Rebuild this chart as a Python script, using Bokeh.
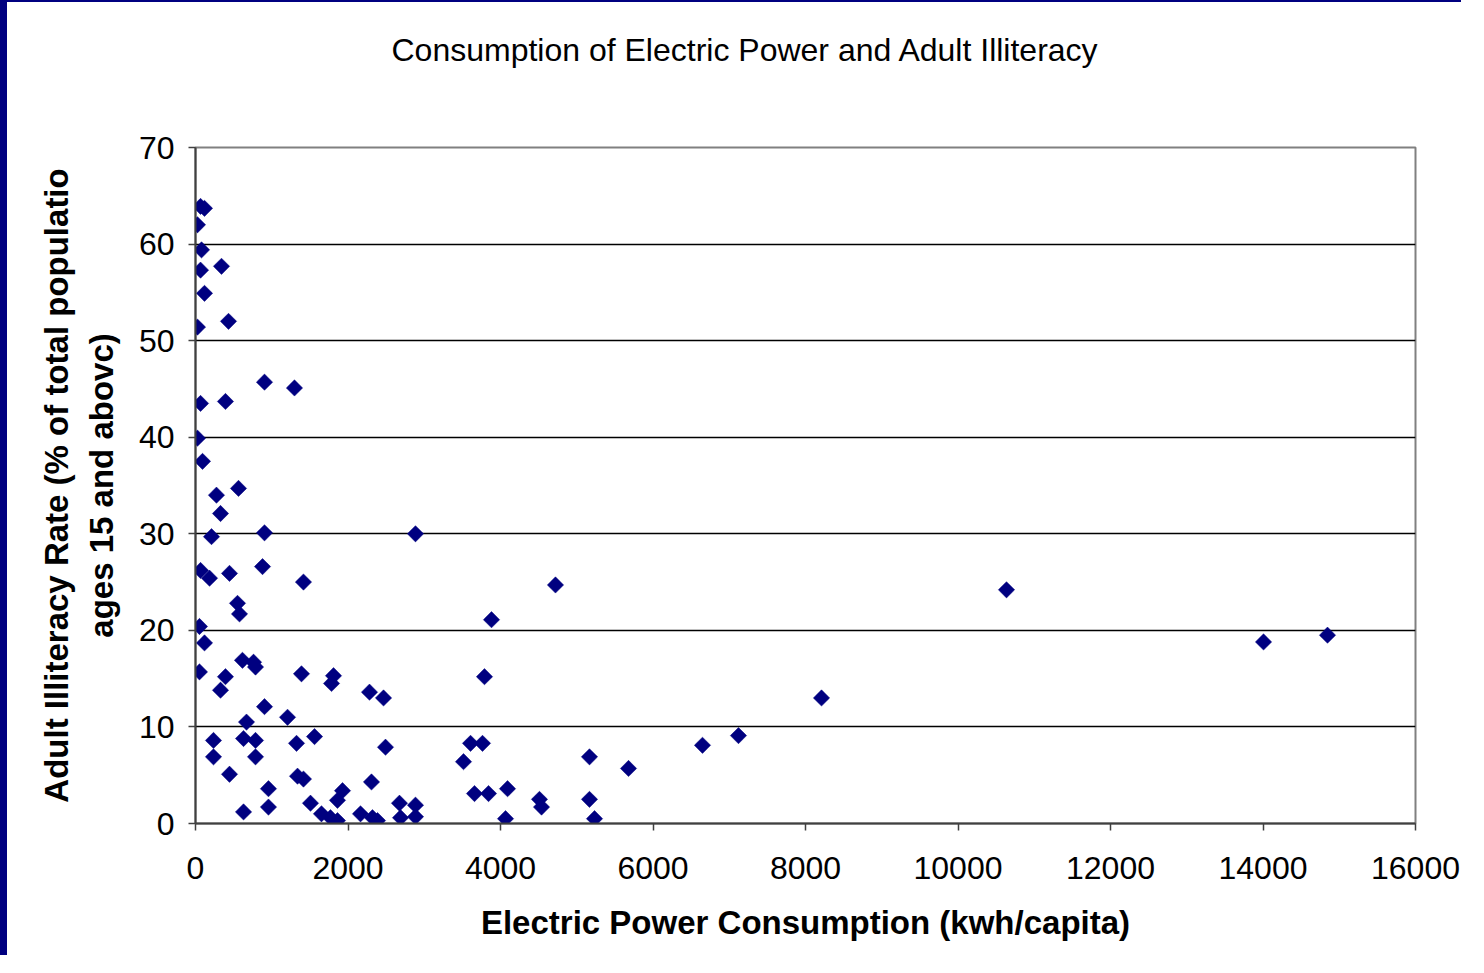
import math
from bokeh.plotting import figure
from bokeh.models import Range1d, FixedTicker, LinearAxis, Title, ColumnDataSource
from bokeh.embed import file_html
from bokeh.resources import INLINE

# ---- data ----
power_kwh = [66, 118, 26, 79, 66, 341, 118, 433, 26, 905, 1298, 66, 393, 26, 92,
             275, 564, 328, 210, 905, 2885, 66, 184, 446, 879, 1416, 4721, 551, 577,
             3882, 52, 118, 616, 761, 787, 52, 393, 1390, 1810, 1784, 3790, 328, 2282,
             2466, 905, 1207, 669, 236, 630, 787, 1325, 1561, 2492, 3607, 3764, 236,
             787, 3515, 446, 1338, 1416, 2308, 957, 1928, 1862, 630, 957, 1508, 1652,
             1770, 1862, 2164, 2321, 2387, 2675, 2689, 2885, 2885, 3659, 3843, 4092,
             4511, 4538, 4066, 5167, 5167, 5233, 5679, 6649, 7121, 8210, 10636, 14007,
             14846]
illiteracy = [63.9, 63.7, 62.0, 59.4, 57.3, 57.7, 54.9, 52.0, 51.4, 45.7, 45.1, 43.5,
              43.7, 39.9, 37.5, 34.0, 34.7, 32.1, 29.7, 30.1, 30.0, 26.2, 25.4, 25.9,
              26.6, 25.0, 24.7, 22.8, 21.7, 21.1, 20.4, 18.7, 16.9, 16.7, 16.2, 15.7,
              15.2, 15.5, 15.3, 14.5, 15.2, 13.8, 13.6, 13.0, 12.1, 11.0, 10.5, 8.6,
              8.8, 8.6, 8.3, 9.0, 7.9, 8.3, 8.3, 6.9, 6.9, 6.4, 5.1, 4.9, 4.6, 4.3,
              3.6, 3.4, 2.4, 1.2, 1.7, 2.1, 1.0, 0.6, 0.3, 1.0, 0.6, 0.3, 2.1, 0.6,
              1.9, 0.7, 3.1, 3.1, 3.6, 2.5, 1.7, 0.5, 6.9, 2.5, 0.5, 5.7, 8.1, 9.1,
              13.0, 24.2, 18.8, 19.5]
x_ticks = [0, 2000, 4000, 6000, 8000, 10000, 12000, 14000, 16000]
y_ticks = [0, 10, 20, 30, 40, 50, 60, 70]

title_text = "Consumption of Electric Power and Adult Illiteracy"
x_label = "Electric Power Consumption (kwh/capita)"
y_label_1 = "Adult Illiteracy Rate (% of total populatio"
y_label_2 = "ages 15 and abovc)"

FONT = "Liberation Sans"
NAVY = "#000080"

BL, BT = 7, 2          # navy page border (left, top)
W, H = 1461, 955
ML, MR, MT, MB = 195 - BL, 53, 147 - BT, 134

p = figure(width=W, height=H, output_backend="svg", toolbar_location=None, title=None,
           x_range=Range1d(x_ticks[0], x_ticks[-1]), y_range=Range1d(y_ticks[0], y_ticks[-1]),
           min_border_left=ML, min_border_right=MR, min_border_top=MT, min_border_bottom=MB)
p.styles = {"border-left": f"{BL}px solid {NAVY}", "border-top": f"{BT}px solid {NAVY}"}
p.background_fill_color = "white"
p.border_fill_color = "white"
p.outline_line_color = "#808080"
p.outline_line_width = 2

xax = p.below[0]
yax = p.left[0]

# grids
p.xgrid.grid_line_color = None
p.ygrid.ticker = FixedTicker(ticks=y_ticks)
p.ygrid.grid_line_color = "#000000"
p.ygrid.grid_line_width = 1.3

# axes
for ax in (xax, yax):
    ax.axis_line_color = "#404040"
    ax.axis_line_width = 2
    ax.major_tick_line_color = "#404040"
    ax.major_tick_line_width = 1.5
    ax.major_tick_out = 7
    ax.major_tick_in = 0
    ax.minor_tick_line_color = None
    ax.major_label_text_font = FONT
    ax.major_label_text_font_size = "32px"
    ax.major_label_text_color = "#000000"
    ax.axis_label_text_font = FONT
    ax.axis_label_text_font_size = "33px"
    ax.axis_label_text_font_style = "bold"
    ax.axis_label_text_color = "#000000"

xax.ticker = FixedTicker(ticks=x_ticks)
yax.ticker = FixedTicker(ticks=y_ticks)
xax.major_label_standoff = 26
yax.major_label_standoff = 14

xax.axis_label = x_label
xax.axis_label_standoff = 22
yax.axis_label = y_label_2
yax.axis_label_standoff = 16

# outer line of the y-axis title, carried by a bare extra axis
outer = LinearAxis(ticker=FixedTicker(ticks=[]), axis_label=y_label_1,
                   axis_line_color=None, major_tick_line_color=None,
                   minor_tick_line_color=None, major_label_text_font_size="0px",
                   major_tick_out=0, major_label_standoff=0,
                   axis_label_standoff=5, axis_label_text_font=FONT,
                   axis_label_text_font_size="33px", axis_label_text_font_style="bold",
                   axis_label_text_color="#000000")
p.add_layout(outer, "left")

# invisible spacer above the frame (an unlabelled tick of invisible length), then the title
spacer = LinearAxis(ticker=FixedTicker(ticks=[x_ticks[0]]), axis_line_color=None,
                    major_tick_line_color=None, minor_tick_line_color=None,
                    major_label_text_font_size="0px", major_label_overrides={x_ticks[0]: ""},
                    major_tick_out=80, major_tick_in=0, major_label_standoff=0)
p.add_layout(spacer, "above")
p.add_layout(Title(text=title_text, text_font=FONT, text_font_size="32px",
                   text_font_style="normal", text_color="#000000",
                   align="left", offset=196, standoff=0), "above")

# scatter
src = ColumnDataSource(dict(x=power_kwh, y=illiteracy))
p.scatter("x", "y", source=src, marker="square", size=11.5, angle=math.pi / 4,
          fill_color=NAVY, line_color=NAVY, line_width=0.5)

open("out.html", "w").write(file_html(p, INLINE))
